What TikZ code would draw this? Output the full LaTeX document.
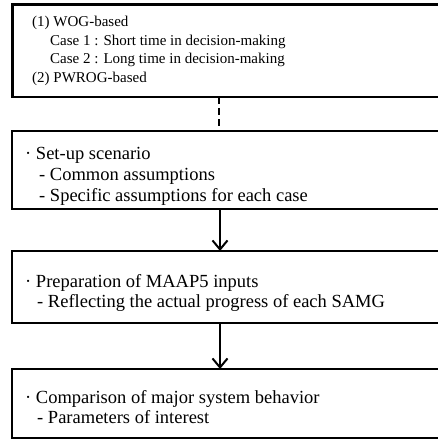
\documentclass[tikz,border=0pt]{standalone}
\usepackage{fontspec}
\setmainfont{Liberation Serif}
\usetikzlibrary{arrows.meta}
\tikzset{
  boxline/.style={draw=black, line width=2.6pt},
  big/.style={anchor=base west, inner sep=0pt, font=\fontsize{18.5}{20}\selectfont},
  small/.style={anchor=base west, inner sep=0pt, font=\fontsize{15}{18}\selectfont},
  flow/.style={line width=2pt, -{Straight Barb[length=9pt,width=15pt]}},
  dashflow/.style={line width=2.2pt, dash pattern=on 7pt off 4pt},
}
\begin{document}
\begin{tikzpicture}[x=1pt,y=-1pt]
\useasboundingbox (0,0) rectangle (438,441);
\begin{scope}
\clip (0,0) rectangle (438,441);
\draw[boxline] (12.5,4.5) rectangle (446,97);
\draw[boxline] (12,131) rectangle (446,209);
\draw[boxline] (12,251) rectangle (446,323);
\draw[boxline] (12,369) rectangle (446,438);
\end{scope}
\coordinate (b1s) at (219,97);
\coordinate (b2n) at (219,131);
\coordinate (b2s) at (220,209);
\coordinate (b3n) at (220,251);
\coordinate (b3s) at (220,323);
\coordinate (b4n) at (220,369);
\node[small] (t11) at (32,27) {(1) WOG-based};
\node[small] (t12) at (50,45.5) {Case 1 : Short time in decision-making};
\node[small] (t13) at (50,64) {Case 2 : Long time in decision-making};
\node[small] (t14) at (32,82.5) {(2) PWROG-based};
\node[big] (t21) at (25,159) {· Set-up scenario};
\node[big] (t22) at (39,180) {- Common assumptions};
\node[big] (t23) at (39,201) {- Specific assumptions for each case};
\node[big] (t31) at (25,287) {· Preparation of MAAP5 inputs};
\node[big] (t32) at (37,307) {- Reflecting the actual progress of each SAMG};
\node[big] (t41) at (25,403) {· Comparison of major system behavior};
\node[big] (t42) at (37,423) {- Parameters of interest};
\draw[dashflow] (b1s) -- (b2n);
\draw[flow] (b2s) -- (b3n);
\draw[flow] (b3s) -- (b4n);
\end{tikzpicture}
\end{document}
